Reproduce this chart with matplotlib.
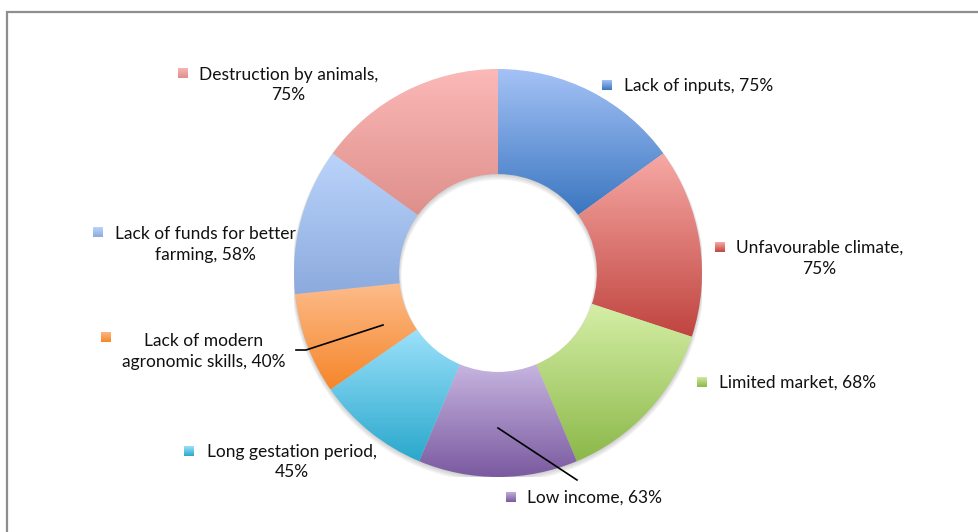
import numpy as np
import matplotlib
matplotlib.use("Agg")
import matplotlib.pyplot as plt
from matplotlib.colors import LinearSegmentedColormap
from matplotlib.patches import Rectangle, Wedge
from matplotlib.lines import Line2D

# ---------------- data ----------------
categories = ["Lack of inputs", "Unfavourable climate", "Limited market", "Low income",
              "Long gestation period", "Lack of modern agronomic skills",
              "Lack of funds for better farming", "Destruction by animals"]
values = [75, 75, 68, 63, 45, 40, 58, 75]

# ---------------- style ----------------
grad_top = ["#a5c2f6", "#f7a9a5", "#d5efa6", "#c7b5e0", "#9ce1fb", "#fdbc8b", "#bad4fb", "#fbb9b7"]
grad_bot = ["#3a76c0", "#c0443f", "#8cb84a", "#7a5aa0", "#2aa8cc", "#f5862a", "#8caadd", "#de8f8b"]
break_after = [None, "climate,", None, None, "period,", "modern", "better", "animals,"]

W, H = 979, 532
FONT = "Lato"
FS = 12.5

def fx(x):
    return x / W

def fy(y):
    return 1 - y / H

fig = plt.figure(figsize=(W / 100, H / 100), dpi=100)
fig.patch.set_facecolor("white")

# chart frame
fig.patches.append(Rectangle((fx(7), -0.2), 2, fy(12) + 0.2, transform=fig.transFigure,
                             fill=False, edgecolor="#8e8e8e", linewidth=1.6, zorder=0))

cx, cy, R = 498, 273, 204
ax = fig.add_axes([fx(cx - R), fy(cy + R), 2 * R / W, 2 * R / H])
ax.set_axis_off()

ring_w = 0.515
# soft shadow
for k, a in enumerate([0.05, 0.05, 0.05, 0.05]):
    off = 0.004 + 0.004 * k
    ax.add_patch(Wedge((0.0, -off), 1.0 + 0.004 * k, 0, 360, width=ring_w + 0.008 * k,
                       facecolor="#000000", alpha=a, linewidth=0, zorder=1))

wedges, _ = ax.pie(values, startangle=90, counterclock=False, radius=1.0,
                   wedgeprops=dict(width=ring_w, linewidth=0))
grad = np.linspace(0, 1, 256).reshape(-1, 1)
for w, c1, c2 in zip(wedges, grad_top, grad_bot):
    w.set_facecolor("none")
    w.set_zorder(3)
    bb = w.get_path().get_extents()
    cmap = LinearSegmentedColormap.from_list("g", [c2, c1])
    im = ax.imshow(grad, extent=(bb.x0, bb.x1, bb.y0, bb.y1), origin="lower",
                   cmap=cmap, aspect="auto", zorder=2, interpolation="bicubic")
    im.set_clip_path(w)
ax.set_xlim(-1, 1)
ax.set_ylim(-1, 1)

# ---------------- labels ----------------
labels = []
for c, v, b in zip(categories, values, break_after):
    s = f"{c}, {v}%"
    if b:
        s = s.replace(b + " ", b + "\n", 1)
    labels.append(s)

# (marker center x, marker center y, text left x, text block center y) in pixels
label_pos = [(607, 85, 624, 86), (720, 247, 736, 258.5), (702, 382, 719, 383),
             (511, 497, 527, 498), (189, 451, 207, 462), (106, 337, 122, 351.5),
             (98, 232, 115, 244.5), (183, 73, 199, 85)]
ms = 10
for lab, (mx, my, tx, ty), c1, c2 in zip(labels, label_pos, grad_top, grad_bot):
    # gradient marker square
    max_ = fig.add_axes([fx(mx - ms / 2), fy(my + ms / 2), ms / W, ms / H])
    max_.set_axis_off()
    mcmap = LinearSegmentedColormap.from_list("m", [c2, c1])
    max_.imshow(grad, origin="lower", cmap=mcmap, aspect="auto", extent=(0, 1, 0, 1))
    fig.text(fx(tx), fy(ty), lab, ha="left", va="center", multialignment="center",
             fontsize=FS, family=FONT, color="#111111", linespacing=1.38)

# leader lines
fig.lines.append(Line2D([fx(383), fx(306), fx(296)], [fy(325), fy(350), fy(350)],
                        transform=fig.transFigure, color="black", linewidth=1.2, zorder=10))
fig.lines.append(Line2D([fx(498), fx(577)], [fy(428), fy(480)],
                        transform=fig.transFigure, color="black", linewidth=1.2, zorder=10))

fig.savefig("out.png", dpi=100)
